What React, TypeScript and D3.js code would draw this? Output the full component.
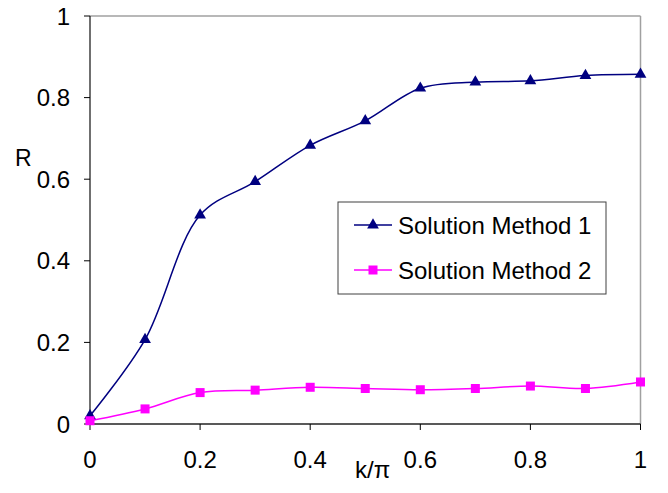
import React from "react";
import * as d3 from "d3";

const xValues = [0, 0.1, 0.2, 0.3, 0.4, 0.5, 0.6, 0.7, 0.8, 0.9, 1.0];
const method1 = [0.02, 0.207, 0.512, 0.594, 0.683, 0.743, 0.823, 0.838, 0.841, 0.854, 0.857];
const method2 = [0.008, 0.037, 0.077, 0.083, 0.09, 0.087, 0.084, 0.087, 0.093, 0.087, 0.103];
const xTicks = [0, 0.2, 0.4, 0.6, 0.8, 1];
const yTicks = [0, 0.2, 0.4, 0.6, 0.8, 1];
const seriesNames = ["Solution Method 1", "Solution Method 2"];

const W = 668, H = 493;
const L = 90, R = 640.5, T = 16, B = 424;
const FONT = "'Liberation Sans', Arial, sans-serif";

export default function App() {
  const x = d3.scaleLinear().domain([0, 1]).range([L, R]);
  const y = d3.scaleLinear().domain([0, 1]).range([B, T]);
  const line = d3
    .line<number>()
    .x((_, i) => x(xValues[i]))
    .y((d) => y(d))
    .curve(d3.curveCatmullRom.alpha(0.5));
  const tri = d3.symbol().type(d3.symbolTriangle).size(60)();
  const sq = 9;

  return (
    <svg width={W} height={H} style={{ position: "absolute", left: 0, top: 0 }} fontFamily={FONT}>
      <rect x={0} y={0} width={W} height={H} fill="#fff" />
      <line x1={L} x2={R} y1={T} y2={T} stroke="#a0a0a0" strokeWidth={1.5} />
      <line x1={R} x2={R} y1={T} y2={B} stroke="#a0a0a0" strokeWidth={1.5} />
      <line x1={L} x2={L} y1={T} y2={B} stroke="#222" strokeWidth={1.3} />
      <line x1={L} x2={R} y1={B} y2={B} stroke="#222" strokeWidth={1.3} />
      {yTicks.map((t) => (
        <g key={"y" + t}>
          <line x1={L - 6} x2={L} y1={y(t)} y2={y(t)} stroke="#000" />
          <text x={70} y={y(t)} dy="0.36em" textAnchor="end" fontSize={24}>
            {String(t)}
          </text>
        </g>
      ))}
      {xTicks.map((t) => (
        <g key={"x" + t}>
          <line x1={x(t)} x2={x(t)} y1={B} y2={B + 6} stroke="#000" />
          <text x={x(t)} y={468} textAnchor="middle" fontSize={24}>
            {String(t)}
          </text>
        </g>
      ))}
      <text x={15} y={166} fontSize={23}>R</text>
      <text x={355} y={478} fontSize={24}>k/π</text>

      <path d={line(method1) || ""} fill="none" stroke="#000080" strokeWidth={1.5} />
      <path d={line(method2) || ""} fill="none" stroke="#ff00ff" strokeWidth={1.5} />
      {method1.map((v, i) => (
        <path key={"a" + i} d={tri || ""} transform={`translate(${x(xValues[i])},${y(v)})`} fill="#000080" />
      ))}
      {method2.map((v, i) => (
        <rect key={"b" + i} x={x(xValues[i]) - sq / 2} y={y(v) - sq / 2} width={sq} height={sq} fill="#ff00ff" />
      ))}

      <rect x={338} y={202} width={268} height={92} fill="#fff" stroke="#404040" strokeWidth={1} />
      {[0, 1].map((i) => {
        const cy = i === 0 ? 225 : 270;
        const col = i === 0 ? "#000080" : "#ff00ff";
        return (
          <g key={"l" + i}>
            <line x1={354} x2={392} y1={cy} y2={cy} stroke={col} strokeWidth={1.5} />
            {i === 0 ? (
              <path d={tri || ""} transform={`translate(373,${cy})`} fill={col} />
            ) : (
              <rect x={373 - sq / 2} y={cy - sq / 2} width={sq} height={sq} fill={col} />
            )}
            <text x={398} y={cy} dy="0.36em" fontSize={24}>
              {seriesNames[i]}
            </text>
          </g>
        );
      })}
    </svg>
  );
}
